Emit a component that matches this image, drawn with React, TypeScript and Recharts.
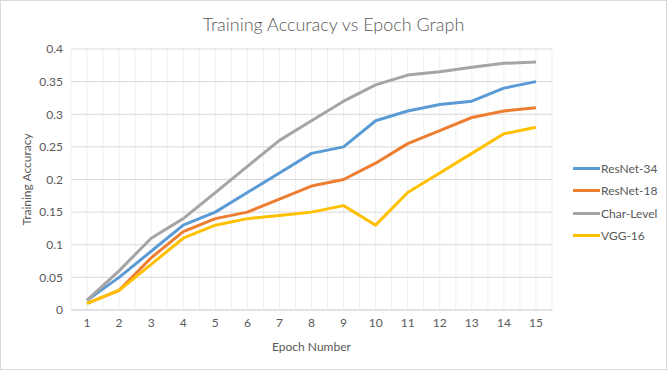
import { LineChart, Line, XAxis, YAxis, CartesianGrid, Legend } from "recharts";

const epochs = [1, 2, 3, 4, 5, 6, 7, 8, 9, 10, 11, 12, 13, 14, 15];
const resnet34 = [0.015, 0.05, 0.09, 0.13, 0.15, 0.18, 0.21, 0.24, 0.25, 0.29, 0.305, 0.315, 0.32, 0.34, 0.35];
const resnet18 = [0.01, 0.03, 0.08, 0.12, 0.14, 0.15, 0.17, 0.19, 0.2, 0.225, 0.255, 0.275, 0.295, 0.305, 0.31];
const charLevel = [0.015, 0.06, 0.11, 0.14, 0.18, 0.22, 0.26, 0.29, 0.32, 0.345, 0.36, 0.365, 0.372, 0.378, 0.38];
const vgg16 = [0.01, 0.03, 0.07, 0.11, 0.13, 0.14, 0.145, 0.15, 0.16, 0.13, 0.18, 0.21, 0.24, 0.27, 0.28];
const yTicks = [0, 0.05, 0.1, 0.15, 0.2, 0.25, 0.3, 0.35, 0.4];

const series = [
  { key: "resnet34", name: "ResNet-34", color: "#5B9BD5", values: resnet34 },
  { key: "resnet18", name: "ResNet-18", color: "#ED7D31", values: resnet18 },
  { key: "charLevel", name: "Char-Level", color: "#A5A5A5", values: charLevel },
  { key: "vgg16", name: "VGG-16", color: "#FFC000", values: vgg16 },
];

const rows = epochs.map((e, i) => {
  const row: Record<string, number> = { epoch: e };
  series.forEach((s) => { row[s.key] = s.values[i]; });
  return row;
});

// ticks on every category and every half-step between them (for the vertical gridlines)
const xTicks = [...epochs.flatMap((e) => [e - 0.5, e]), epochs[epochs.length - 1] + 0.5];

const FONT = "Lato, 'Open Sans', sans-serif";
const TEXT = "#595959";

function LegendBox() {
  return (
    <div style={{ width: 104, paddingLeft: 21, boxSizing: "border-box", fontFamily: FONT, fontSize: 12, color: TEXT, whiteSpace: "nowrap" }}>
      {series.map((s) => (
        <div key={s.key} style={{ display: "flex", alignItems: "center", height: 22.5 }}>
          <span style={{ display: "inline-block", flex: "0 0 27px", height: 3, background: s.color }} />
          <span style={{ marginLeft: 1 }}>{s.name}</span>
        </div>
      ))}
    </div>
  );
}

export default function App() {
  return (
    <div
      style={{
        position: "absolute", left: 0, top: 0, width: 667, height: 370,
        boxSizing: "border-box", border: "1px solid #d9d9d9", background: "#fff",
      }}
    >
      <div
        style={{
          position: "absolute", left: 0, right: 0, top: 12, textAlign: "center",
          fontFamily: FONT, fontSize: 18, color: TEXT, fontWeight: 300,
        }}
      >
        Training Accuracy vs Epoch Graph
      </div>
      <LineChart width={665} height={368} data={rows} margin={{ top: 48, right: 10, left: 20, bottom: 13 }}>
        <CartesianGrid horizontal={false} stroke="#efefef" />
        <CartesianGrid vertical={false} stroke="#d9d9d9" />
        <XAxis
          dataKey="epoch" type="number" domain={[0.5, 15.5]} ticks={xTicks} interval={0}
          tickFormatter={(v: number) => (Number.isInteger(v) ? String(v) : "")}
          tick={{ fontSize: 12, fill: TEXT, fontFamily: FONT }}
          axisLine={{ stroke: "#d9d9d9" }} tickLine={false} height={46}
          label={{ value: "Epoch Number", position: "insideBottom", fontSize: 12, fill: TEXT, fontFamily: FONT }}
        />
        <YAxis
          domain={[0, 0.4]} ticks={yTicks} interval={0}
          tick={{ fontSize: 12, fill: TEXT, fontFamily: FONT }}
          axisLine={false} tickLine={false} width={50}
          label={{ value: "Training Accuracy", angle: -90, position: "insideLeft", dx: 1,
            style: { textAnchor: "middle" }, fontSize: 12, fill: TEXT, fontFamily: FONT }}
        />
        <Legend layout="vertical" align="right" verticalAlign="middle" wrapperStyle={{ top: 156 }} content={() => <LegendBox />} />
        {series.map((s) => (
          <Line
            key={s.key} dataKey={s.key} name={s.name} type="linear" stroke={s.color}
            strokeWidth={3} dot={false} isAnimationActive={false} strokeLinejoin="round"
          />
        ))}
      </LineChart>
    </div>
  );
}
